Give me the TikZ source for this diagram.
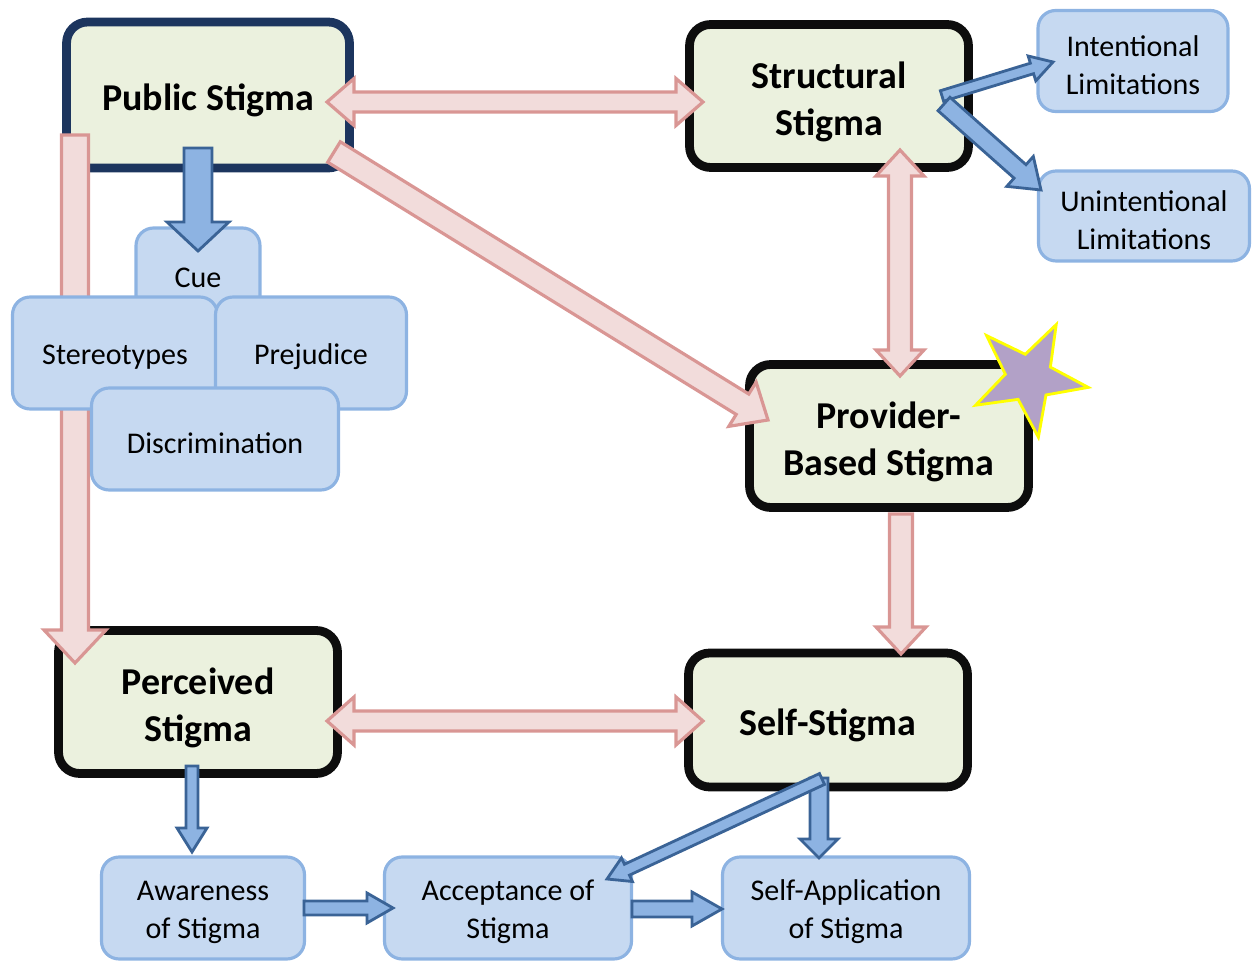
\documentclass[tikz,border=0pt]{standalone}
\usepackage{fontspec}
\setmainfont{Carlito}
\usetikzlibrary{calc}
\definecolor{gfill}{HTML}{EBF1DE}
\definecolor{navy}{HTML}{1C355E}
\definecolor{nearblack}{HTML}{0D0D0D}
\definecolor{bfill}{HTML}{C6D9F1}
\definecolor{bborder}{HTML}{8DB3E2}
\definecolor{pfill}{HTML}{F2DCDB}
\definecolor{pborder}{HTML}{D99694}
\definecolor{afill}{HTML}{8DB3E2}
\definecolor{aborder}{HTML}{3A6396}
\definecolor{starfill}{HTML}{B2A1C7}
\definecolor{staredge}{HTML}{FFFF00}
\newcommand{\mstrut}{\rule{0pt}{1.0em}}
\newcommand{\bstrut}{\rule{0pt}{0.95em}}
\tikzset{
  mainbox/.style={draw=nearblack, line width=5pt, fill=gfill, rounded corners=12pt,
    minimum width=5.58cm, minimum height=2.86cm, inner sep=0pt, align=center,
    font=\bfseries\fontsize{21.6}{26.8}\selectfont},
  bluebox/.style={draw=bborder, line width=1.8pt, fill=bfill, rounded corners=10pt,
    inner sep=0pt, align=center, font=\fontsize{17.1}{21.6}\selectfont},
  pinkarrow/.style={fill=pfill, draw=pborder, line width=1.8pt, line join=miter},
  bluearrow/.style={fill=afill, draw=aborder, line width=1.6pt, line join=miter}
}
% #1 style, #2 from, #3 to, #4 shaft half width, #5 head half width, #6 head length (px)
\newcommand{\barrow}[6]{%
  \coordinate (bH) at ($(#3)!#6*0.02cm!(#2)$);
  \draw[#1] ($(#2)!#4*0.02cm!90:(#3)$) -- ($(bH)!#4*0.02cm!-90:(#2)$) -- ($(bH)!#5*0.02cm!-90:(#2)$) -- (#3)
    -- ($(bH)!#5*0.02cm!90:(#2)$) -- ($(bH)!#4*0.02cm!90:(#2)$) -- ($(#2)!#4*0.02cm!-90:(#3)$) -- cycle;
}
\newcommand{\dbarrow}[6]{%
  \coordinate (bHa) at ($(#3)!#6*0.02cm!(#2)$);
  \coordinate (bHb) at ($(#2)!#6*0.02cm!(#3)$);
  \draw[#1] (#2) -- ($(bHb)!#5*0.02cm!90:(#3)$) -- ($(bHb)!#4*0.02cm!90:(#3)$) -- ($(bHa)!#4*0.02cm!-90:(#2)$)
    -- ($(bHa)!#5*0.02cm!-90:(#2)$) -- (#3) -- ($(bHa)!#5*0.02cm!90:(#2)$) -- ($(bHa)!#4*0.02cm!90:(#2)$)
    -- ($(bHb)!#4*0.02cm!-90:(#3)$) -- ($(bHb)!#5*0.02cm!-90:(#3)$) -- cycle;
}
\begin{document}
\begin{tikzpicture}[x=0.02cm,y=-0.02cm]
\useasboundingbox (0,0) rectangle (1252,962);
% main boxes
\node[mainbox, draw=navy, minimum width=5.66cm, minimum height=2.92cm] (ps) at (208,95) {\mstrut Public Stigma};
\node[mainbox] (ss) at (829,96) {\mstrut Structural\\Stigma};
\node[mainbox] (pb) at (889,436) {\mstrut Provider-\\Based Stigma};
\node[mainbox] (pc) at (198,702) {\mstrut Perceived\\Stigma};
\node[mainbox, minimum height=2.68cm] (sf) at (828,720) {\mstrut Self-Stigma};
% star
\draw[fill=starfill, draw=staredge, line width=1.6pt, shift={(1029,378)}]
  (-63:60) -- (-99:24) -- (-135:60) -- (-171:24) -- (-207:60) -- (-243:24) -- (-279:60) -- (-315:24) -- (-351:60) -- (-27:24) -- cycle;
% pink arrow end points
\coordinate (p1a) at (327,102);
\coordinate (p1b) at (703,102);
\coordinate (p2a) at (334,152);
\coordinate (p2b) at (768,420);
\coordinate (p3a) at (900,150);
\coordinate (p3b) at (900,376);
\coordinate (p4a) at (75,135);
\coordinate (p4b) at (75,663);
\coordinate (p5a) at (901,514);
\coordinate (p5b) at (901,654);
\coordinate (p6a) at (327,721);
\coordinate (p6b) at (703,721);
\dbarrow{pinkarrow}{p1a}{p1b}{10}{23.5}{27}
\barrow{pinkarrow}{p2a}{p2b}{12}{26}{30}
\dbarrow{pinkarrow}{p3a}{p3b}{11.5}{24}{26}
\barrow{pinkarrow}{p4a}{p4b}{13.5}{31}{33}
\barrow{pinkarrow}{p5a}{p5b}{11.5}{25}{27}
\dbarrow{pinkarrow}{p6a}{p6b}{10}{24}{27}
% blue boxes (stacked)
\node[bluebox, minimum width=2.48cm, minimum height=1.8cm] (cue) at (198,273) {\bstrut Cue};
\coordinate (b1a) at (198,148);
\coordinate (b1b) at (198,251);
\barrow{bluearrow}{b1a}{b1b}{14}{31}{29}
\node[bluebox, minimum width=4.1cm, minimum height=2.24cm] (st) at (115,353) {\bstrut Stereotypes};
\node[bluebox, minimum width=3.82cm, minimum height=2.24cm] (pr) at (311,353) {\bstrut Prejudice};
\node[bluebox, minimum width=4.94cm, minimum height=2.04cm] (di) at (215,439) {\bstrut Discrimination};
\node[bluebox, minimum width=3.8cm, minimum height=2.02cm] (il) at (1133,61) {\bstrut Intentional\\Limitations};
\node[bluebox, minimum width=4.22cm, minimum height=1.8cm] (ul) at (1144,216) {\bstrut Unintentional\\Limitations};
\node[bluebox, minimum width=4.06cm, minimum height=2.04cm] (aw) at (203,908) {\bstrut Awareness\\of Stigma};
\node[bluebox, minimum width=4.94cm, minimum height=2.04cm] (ac) at (508,908) {\bstrut Acceptance of\\Stigma};
\node[bluebox, minimum width=4.94cm, minimum height=2.04cm] (sa) at (846,908) {\bstrut Self-Application\\of Stigma};
% blue arrows
\coordinate (b2a) at (942,96);
\coordinate (b2b) at (1053,62);
\barrow{bluearrow}{b2a}{b2b}{5.5}{13}{22}
\coordinate (b3a) at (944,104);
\coordinate (b3b) at (1041,190);
\barrow{bluearrow}{b3a}{b3b}{9}{20}{28}
\coordinate (b4a) at (192,766);
\coordinate (b4b) at (192,852);
\barrow{bluearrow}{b4a}{b4b}{6}{15}{24}
\coordinate (b5a) at (304,908);
\coordinate (b5b) at (393,908);
\barrow{bluearrow}{b5a}{b5b}{7}{15}{26}
\coordinate (b6a) at (632,909);
\coordinate (b6b) at (722,909);
\barrow{bluearrow}{b6a}{b6b}{8}{17}{30}
\coordinate (b7a) at (819,778);
\coordinate (b7b) at (819,858);
\barrow{bluearrow}{b7a}{b7b}{9}{19}{19}
\coordinate (b8a) at (822,779);
\coordinate (b8b) at (607,879);
\barrow{bluearrow}{b8a}{b8b}{6}{13}{22}
\end{tikzpicture}
\end{document}
